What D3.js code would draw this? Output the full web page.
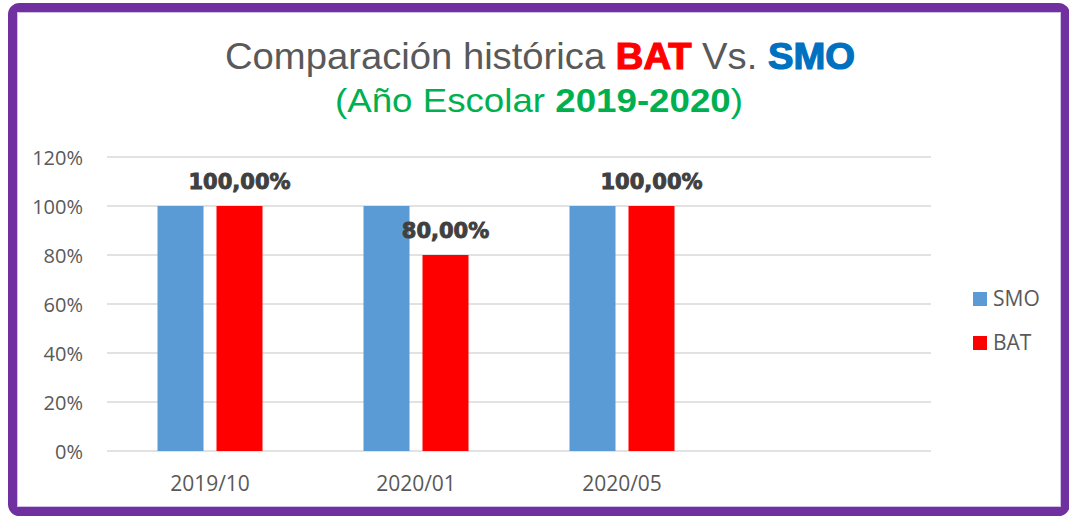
<!DOCTYPE html>
<html>
<head>
<meta charset="utf-8">
<script src="https://cdn.jsdelivr.net/npm/d3@7"></script>
<style>
  body { margin: 0; background: #fff; }
  svg { display: block; }
</style>
</head>
<body>
<div id="graph"></div>
<script>
var width = 1069,
    height = 517

// data (4th category is empty, like in the excel sheet)
var categories = ['2019/10', '2020/01', '2020/05', '']
var series = ['SMO', 'BAT']
var smoValues = [1, 1, 1, null]
var batValues = [1, 0.8, 1, null]
var yTicks = [0, 0.2, 0.4, 0.6, 0.8, 1, 1.2]

var colors = {SMO: '#5B9BD5', BAT: '#FF0000'}
var gray = '#595959'

var svg = d3.select('#graph')
  .append('svg')
  .attr('width', width)
  .attr('height', height)

// purple frame
svg.append('rect')
  .attr('x', 12.5).attr('y', 7.5)
  .attr('width', 1053).attr('height', 504)
  .attr('rx', 7)
  .attr('fill', '#fff')
  .attr('stroke', '#7030A0')
  .attr('stroke-width', 9)
svg.append('rect')
  .attr('x', 17.5).attr('y', 12.5)
  .attr('width', 1043).attr('height', 494)
  .attr('fill', 'none')
  .attr('stroke', '#d2c1e6')
  .attr('stroke-width', 1)

// title
var title = svg.append('text')
  .attr('x', 540).attr('y', 69)
  .attr('text-anchor', 'middle')
  .attr('font-family', '"Liberation Sans", Arial, sans-serif')
  .attr('font-size', 37)
  .attr('textLength', 630)
  .attr('lengthAdjust', 'spacingAndGlyphs')
title.append('tspan').attr('fill', gray).text('Comparación histórica ')
title.append('tspan').attr('fill', '#FF0000').attr('font-weight', 'bold')
  .attr('stroke', '#FF0000').attr('stroke-width', 1.2).text('BAT')
title.append('tspan').attr('fill', gray).text(' Vs. ')
title.append('tspan').attr('fill', '#0070C0').attr('font-weight', 'bold')
  .attr('stroke', '#0070C0').attr('stroke-width', 1.2).text('SMO')

var sub = svg.append('text')
  .attr('x', 539).attr('y', 112)
  .attr('text-anchor', 'middle')
  .attr('font-family', '"Liberation Sans", Arial, sans-serif')
  .attr('font-size', 33)
  .attr('fill', '#00B050')
  .attr('textLength', 408)
  .attr('lengthAdjust', 'spacingAndGlyphs')
sub.append('tspan').text('(Año Escolar ')
sub.append('tspan').attr('font-weight', 'bold').text('2019-2020')
sub.append('tspan').text(')')

// scales
var x0 = d3.scaleBand()
  .domain(categories)
  .range([107, 931])

var groupW = 105
var x1 = d3.scaleBand()
  .domain(series)
  .range([0, groupW])
  .paddingInner(13 / 59)

var y = d3.scaleLinear()
  .domain([0, 1.2])
  .range([451, 157])

var pct = d3.format('.0%')
var esLocale = d3.formatLocale({decimal: ',', thousands: '.', grouping: [3], currency: ['', '€']})
var labelFmt = esLocale.format('.2%')

// gridlines
svg.append('g')
  .selectAll('line')
  .data(yTicks)
  .join('line')
  .attr('x1', 107).attr('x2', 931)
  .attr('y1', function(d){ return y(d) })
  .attr('y2', function(d){ return y(d) })
  .attr('stroke', '#d9d9d9')
  .attr('stroke-width', 1.5)

// y axis labels
svg.append('g')
  .selectAll('text')
  .data(yTicks)
  .join('text')
  .attr('x', 83)
  .attr('y', function(d){ return y(d) + 8 })
  .attr('text-anchor', 'end')
  .attr('font-family', '"Open Sans", sans-serif')
  .attr('font-size', 20)
  .attr('fill', gray)
  .text(function(d){ return pct(d) })

// x axis labels
svg.append('g')
  .selectAll('text')
  .data(categories)
  .join('text')
  .attr('x', function(d){ return x0(d) + x0.bandwidth() / 2 })
  .attr('y', 491)
  .attr('text-anchor', 'middle')
  .attr('font-family', '"Open Sans", sans-serif')
  .attr('font-size', 21)
  .attr('fill', gray)
  .text(function(d){ return d })

// bars
var rows = categories.map(function(c, i){
  return {cat: c, i: i, vals: [{s: 'SMO', v: smoValues[i]}, {s: 'BAT', v: batValues[i]}]}
})
var groupOffset = (x0.bandwidth() - groupW) / 2

var groups = svg.append('g')
  .selectAll('g')
  .data(rows)
  .join('g')
  .attr('transform', function(d){ return 'translate(' + (x0(d.cat) + groupOffset) + ',0)' })

groups.selectAll('rect')
  .data(function(d){ return d.vals.filter(function(e){ return e.v != null }) })
  .join('rect')
  .attr('x', function(d){ return x1(d.s) })
  .attr('width', x1.bandwidth())
  .attr('y', function(d){ return y(d.v) })
  .attr('height', function(d){ return y(0) - y(d.v) })
  .attr('fill', function(d){ return colors[d.s] })

// data labels only on BAT
groups.filter(function(d){ return batValues[d.i] != null })
  .append('text')
  .attr('x', function(d){ return x1('BAT') + x1.bandwidth() / 2 })
  .attr('y', function(d){ return y(batValues[d.i]) - 17 })
  .attr('text-anchor', 'middle')
  .attr('font-family', '"DejaVu Sans", sans-serif')
  .attr('font-weight', 'bold')
  .attr('font-size', 21)
  .attr('fill', '#404040')
  .attr('stroke', '#404040')
  .attr('stroke-width', 0.9)
  .text(function(d){ return labelFmt(batValues[d.i]) })

// legend
var legend = svg.append('g')
  .selectAll('g')
  .data(series)
  .join('g')
  .attr('transform', function(d, i){ return 'translate(973,' + (292 + i * 44) + ')' })
legend.append('rect')
  .attr('width', 14).attr('height', 14)
  .attr('fill', function(d){ return colors[d] })
legend.append('text')
  .attr('x', 20).attr('y', 14)
  .attr('font-family', '"Open Sans", sans-serif')
  .attr('font-size', 21)
  .attr('fill', gray)
  .text(function(d){ return d })
</script>
</body>
</html>
